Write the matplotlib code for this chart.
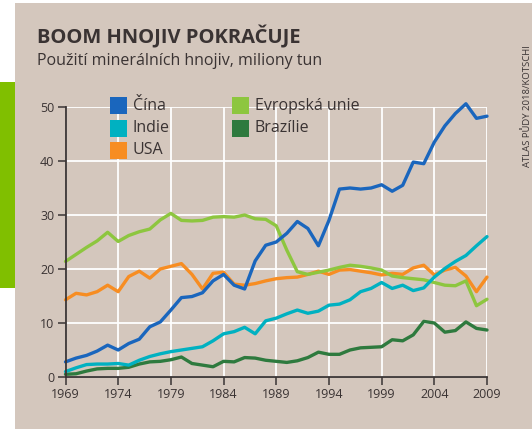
import numpy as np
import matplotlib
matplotlib.use("Agg")
import matplotlib.pyplot as plt
from matplotlib.patches import Rectangle

plt.rcParams["font.family"] = ["Open Sans", "DejaVu Sans"]

# =============================================================================
# DATA (million tonnes)
# =============================================================================
years = list(range(1969, 2010))

cina = [2.8, 3.5, 4.0, 4.8, 5.9, 5.0, 6.2, 7.0, 9.3, 10.2,
        12.4, 14.7, 14.9, 15.6, 17.8, 19.0, 17.0, 16.3, 21.5, 24.4,
        25.0, 26.6, 28.8, 27.5, 24.3, 29.0, 34.8, 35.0, 34.8, 35.0,
        35.6, 34.4, 35.5, 39.8, 39.5, 43.5, 46.5, 48.8, 50.6, 47.9, 48.3]

indie = [1.0, 1.7, 2.3, 2.4, 2.4, 2.5, 2.2, 3.1, 3.8, 4.3,
         4.7, 5.0, 5.3, 5.6, 6.7, 8.0, 8.4, 9.2, 8.0, 10.4,
         10.9, 11.7, 12.4, 11.8, 12.2, 13.3, 13.5, 14.3, 15.8, 16.4,
         17.5, 16.4, 17.0, 16.0, 16.5, 18.5, 20.1, 21.4, 22.5, 24.3, 26.0]

usa = [14.3, 15.5, 15.2, 15.8, 17.0, 15.8, 18.6, 19.6, 18.3, 20.0,
       20.5, 21.0, 19.0, 16.3, 19.2, 19.4, 17.2, 17.0, 17.3, 17.8,
       18.2, 18.4, 18.5, 19.0, 19.6, 19.0, 19.8, 19.9, 19.6, 19.3,
       18.9, 19.2, 19.0, 20.2, 20.7, 18.9, 19.8, 20.3, 18.7, 15.8, 18.5]

eu = [21.4, 22.7, 24.0, 25.2, 26.8, 25.1, 26.2, 26.9, 27.4, 29.1,
      30.3, 29.0, 28.9, 29.0, 29.6, 29.7, 29.6, 30.0, 29.3, 29.2,
      28.0, 23.5, 19.5, 19.0, 19.4, 19.8, 20.3, 20.7, 20.5, 20.2,
      19.8, 18.7, 18.4, 18.2, 18.0, 17.5, 17.0, 16.9, 17.8, 13.2, 14.4]

brazilie = [0.5, 0.6, 1.1, 1.5, 1.6, 1.6, 1.8, 2.4, 2.8, 2.9,
            3.2, 3.7, 2.5, 2.2, 1.9, 2.9, 2.8, 3.6, 3.5, 3.1,
            2.9, 2.7, 3.0, 3.6, 4.6, 4.2, 4.2, 5.0, 5.4, 5.5,
            5.6, 6.9, 6.7, 7.8, 10.3, 10.0, 8.3, 8.6, 10.2, 9.0, 8.7]

x_ticks = list(range(1969, 2010, 5))
y_ticks = [0, 10, 20, 30, 40, 50]

# =============================================================================
# STYLE
# =============================================================================
W, H = 532, 429
BEIGE = "#d4c7bd"
TEXT = "#3a3333"
C_CINA = "#1a66bd"
C_INDIE = "#00b1c1"
C_USA = "#f78d22"
C_EU = "#8dc63f"
C_BRA = "#2e7a3e"


def fx(px):
    return px / W


def fy(py):
    return 1 - py / H


fig = plt.figure(figsize=(W / 100, H / 100), dpi=100)
fig.patch.set_facecolor("white")

# beige panel and green side marker
fig.patches.append(Rectangle((fx(15), 0), 1 - fx(15), fy(3), transform=fig.transFigure,
                             facecolor=BEIGE, edgecolor="none", zorder=-10))
fig.patches.append(Rectangle((0, fy(288)), fx(15), fy(82) - fy(288), transform=fig.transFigure,
                             facecolor="#80bf00", edgecolor="none", zorder=-10))

ax = fig.add_axes([fx(65.5), fy(377), fx(487) - fx(65.5), fy(107) - fy(377)])
ax.set_zorder(1)
ax.patch.set_alpha(0)

series = [
    (brazilie, C_BRA),
    (usa, C_USA),
    (eu, C_EU),
    (indie, C_INDIE),
    (cina, C_CINA),
]
for vals, col in series:
    ax.plot(years, vals, color=col, lw=2.4, solid_joinstyle="round",
            solid_capstyle="round", zorder=3, clip_on=False)

ax.set_xlim(1969, 2009)
ax.set_ylim(0, 50)
ax.set_xticks(x_ticks)
ax.set_yticks(y_ticks)
ax.grid(True, color="white", lw=1.3, zorder=1)
ax.set_axisbelow(True)

for s in ["top", "right"]:
    ax.spines[s].set_visible(False)
for s in ["left", "bottom"]:
    ax.spines[s].set_color("#3a3434")
    ax.spines[s].set_linewidth(1.3)
    ax.spines[s].set_zorder(4)

ax.tick_params(axis="both", direction="out", length=5.5, width=1.1,
               color="#3a3434", labelsize=9, labelcolor=TEXT, pad=2.5)

# legend drawn by hand: two columns of coloured squares
legend_items = [
    ("Čína", C_CINA, 110, 97),
    ("Indie", C_INDIE, 110, 120),
    ("USA", C_USA, 110, 142),
    ("Evropská unie", C_EU, 232, 97),
    ("Brazílie", C_BRA, 232, 120),
]
for label, col, lx, ly in legend_items:
    fig.patches.append(Rectangle((fx(lx), fy(ly + 17)), fx(17), fy(0) - fy(17),
                                 transform=fig.transFigure, facecolor=col,
                                 edgecolor="none", zorder=5))
    fig.text(fx(lx + 23), fy(ly + 8.5), label, fontsize=11.5, color=TEXT,
             ha="left", va="center", zorder=6)

# titles
fig.text(fx(37), fy(43), "BOOM HNOJIV POKRAČUJE", fontsize=14.5, fontweight="bold",
         color=TEXT, ha="left", va="baseline")
fig.text(fx(37), fy(65), "Použití minerálních hnojiv, miliony tun", fontsize=11.5,
         color=TEXT, ha="left", va="baseline")
fig.text(fx(527), fy(167), "ATLAS PŮDY 2018/KOTSCHI", fontsize=6.8, color=TEXT,
         rotation=90, ha="center", va="bottom")

fig.savefig("out.png", dpi=100)
